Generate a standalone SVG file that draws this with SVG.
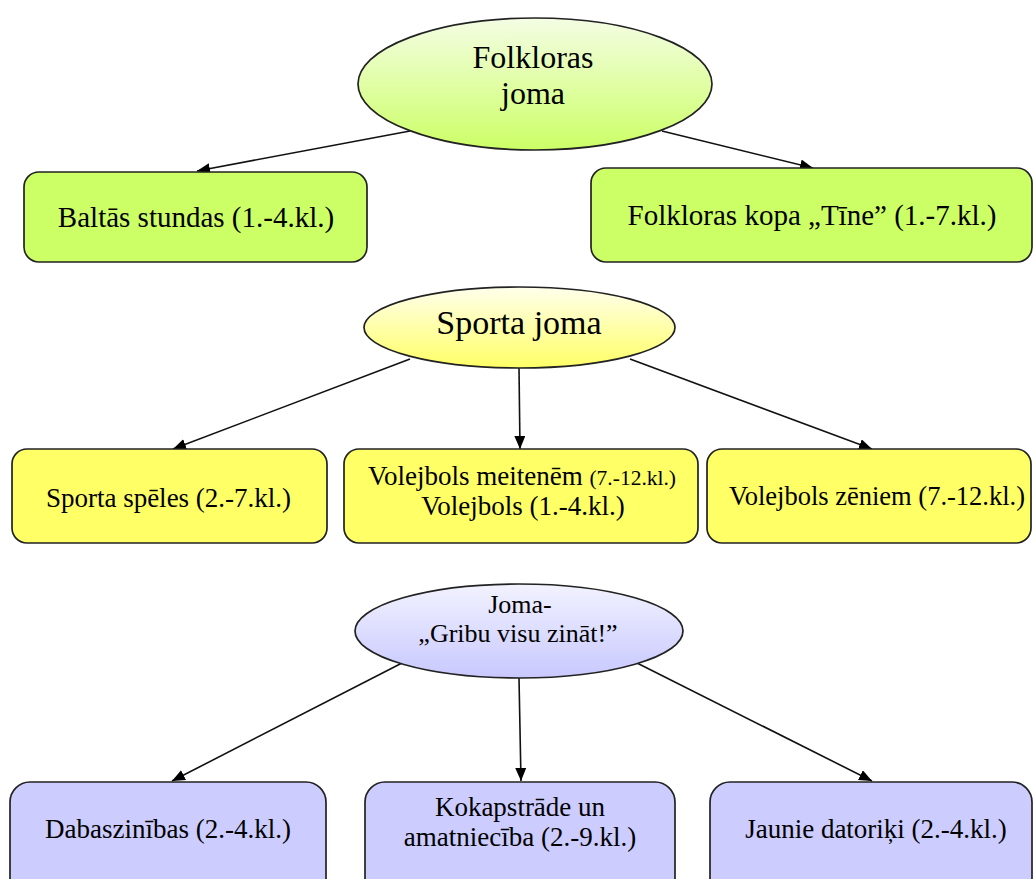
<svg xmlns="http://www.w3.org/2000/svg" width="1036" height="879" viewBox="0 0 1036 879">
<defs>
<linearGradient id="gGreen" x1="0" y1="0" x2="0" y2="1">
<stop offset="0" stop-color="#f4fde4"/><stop offset="1" stop-color="#ccff66"/>
</linearGradient>
<linearGradient id="gYellow" x1="0" y1="0" x2="0" y2="1">
<stop offset="0" stop-color="#ffffec"/><stop offset="1" stop-color="#ffff66"/>
</linearGradient>
<linearGradient id="gBlue" x1="0" y1="0" x2="0" y2="1">
<stop offset="0" stop-color="#f2f2ff"/><stop offset="1" stop-color="#c8c8ff"/>
</linearGradient>
<marker id="arr" viewBox="0 0 13 11" refX="13" refY="5.5" markerWidth="13" markerHeight="11" markerUnits="userSpaceOnUse" orient="auto">
<path d="M0,0 L13,5.5 L0,11 Z" fill="#000"/>
</marker>
<style>
.n{stroke:#222;stroke-width:1.7}
.gb{fill:#ccff66}
.yb{fill:#ffff66}
.bb{fill:#ccccff}
.t{font-family:"Liberation Serif","Times New Roman",serif;fill:#000;text-anchor:middle}
.c line{stroke:#111;stroke-width:1.6;marker-end:url(#arr)}
</style>
</defs>

<g class="c" id="connectors">
<line x1="410" y1="131" x2="197" y2="171"/>
<line x1="662" y1="131" x2="813" y2="168"/>
<line x1="410" y1="359" x2="173" y2="449"/>
<line x1="519" y1="368" x2="520" y2="449"/>
<line x1="630" y1="359" x2="872" y2="449"/>
<line x1="402" y1="663" x2="172" y2="781"/>
<line x1="519" y1="678" x2="521" y2="781"/>
<line x1="637" y1="663" x2="872" y2="781"/>
</g>

<g id="folkloras-joma">
<ellipse class="n" cx="535" cy="84" rx="177" ry="66" fill="url(#gGreen)"/>
<text class="t" x="533" y="68" font-size="32">Folkloras</text>
<text class="t" x="533" y="104" font-size="32">joma</text>
</g>
<g id="baltas-stundas">
<rect class="n gb" x="24" y="172" width="343" height="90" rx="15"/>
<text class="t" x="196" y="227" font-size="29">Baltās stundas (1.-4.kl.)</text>
</g>
<g id="folkloras-kopa">
<rect class="n gb" x="591" y="168" width="441" height="94" rx="15"/>
<text class="t" x="812" y="225" font-size="29">Folkloras kopa „Tīne” (1.-7.kl.)</text>
</g>

<g id="sporta-joma">
<ellipse class="n" cx="519.5" cy="327.5" rx="155.5" ry="40.5" fill="url(#gYellow)"/>
<text class="t" x="519" y="334" font-size="34">Sporta joma</text>
</g>
<g id="sporta-speles">
<rect class="n yb" x="12" y="449" width="315" height="94" rx="15"/>
<text class="t" x="168.5" y="507" font-size="27">Sporta spēles (2.-7.kl.)</text>
</g>
<g id="volejbols">
<rect class="n yb" x="344" y="449" width="354" height="94" rx="15"/>
<text class="t" x="522" y="485" font-size="27">Volejbols meitenēm <tspan font-size="21.5">(7.-12.kl.)</tspan></text>
<text class="t" x="523" y="515" font-size="27">Volejbols (1.-4.kl.)</text>
</g>
<g id="volejbols-zeniem">
<rect class="n yb" x="707" y="449" width="324" height="94" rx="15"/>
<text class="t" x="877" y="505" font-size="26.5">Volejbols zēniem (7.-12.kl.)</text>
</g>

<g id="joma-gribu">
<ellipse class="n" cx="519" cy="631" rx="164" ry="47" fill="url(#gBlue)"/>
<text class="t" x="520" y="613" font-size="26">Joma-</text>
<text class="t" x="518" y="642" font-size="26">„Gribu visu  zināt!”</text>
</g>
<g id="dabaszinibas">
<rect class="n bb" x="10" y="782" width="316" height="120" rx="20"/>
<text class="t" x="168" y="838" font-size="27">Dabaszinības (2.-4.kl.)</text>
</g>
<g id="kokapstrade">
<rect class="n bb" x="365" y="782" width="310" height="120" rx="20"/>
<text class="t" x="520" y="816" font-size="27">Kokapstrāde un</text>
<text class="t" x="520" y="846" font-size="27">amatniecība (2.-9.kl.)</text>
</g>
<g id="jaunie-datoriki">
<rect class="n bb" x="710" y="782" width="322" height="120" rx="20"/>
<text class="t" x="876" y="838" font-size="27">Jaunie datoriķi (2.-4.kl.)</text>
</g>
</svg>
